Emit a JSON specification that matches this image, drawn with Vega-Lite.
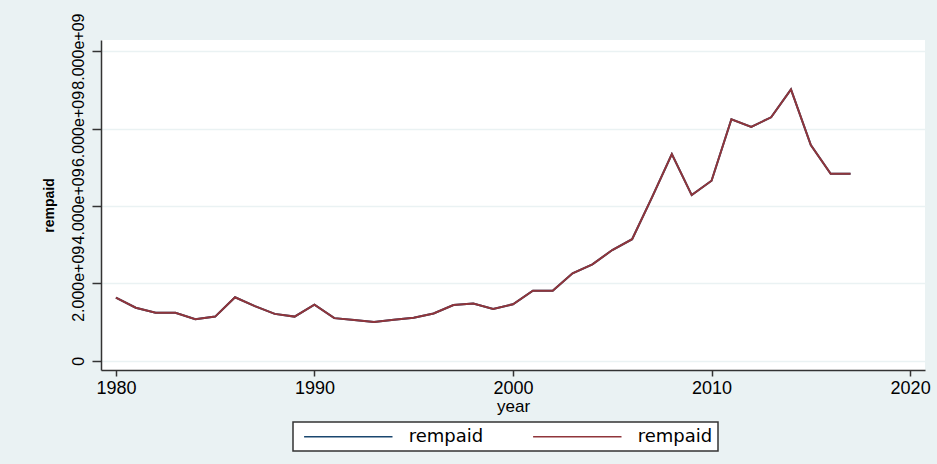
{
  "$schema": "https://vega.github.io/schema/vega-lite/v6.json",
  "width": 824,
  "height": 330,
  "autosize": {"type": "none"},
  "padding": {"left": 101, "top": 40, "right": 12, "bottom": 94},
  "background": "#EAF2F3",
  "config": {
    "view": {"fill": "white", "stroke": null},
    "font": "Liberation Sans",
    "legend": {"strokeWidth": 1.5}
  },
  "data": {
    "values": [
      {"year": 1980, "rempaid": 1.63e9},
      {"year": 1981, "rempaid": 1.37e9},
      {"year": 1982, "rempaid": 1.24e9},
      {"year": 1983, "rempaid": 1.24e9},
      {"year": 1984, "rempaid": 1.07e9},
      {"year": 1985, "rempaid": 1.14e9},
      {"year": 1986, "rempaid": 1.64e9},
      {"year": 1987, "rempaid": 1.41e9},
      {"year": 1988, "rempaid": 1.21e9},
      {"year": 1989, "rempaid": 1.14e9},
      {"year": 1990, "rempaid": 1.45e9},
      {"year": 1991, "rempaid": 1.10e9},
      {"year": 1992, "rempaid": 1.05e9},
      {"year": 1993, "rempaid": 1.00e9},
      {"year": 1994, "rempaid": 1.06e9},
      {"year": 1995, "rempaid": 1.11e9},
      {"year": 1996, "rempaid": 1.22e9},
      {"year": 1997, "rempaid": 1.44e9},
      {"year": 1998, "rempaid": 1.48e9},
      {"year": 1999, "rempaid": 1.34e9},
      {"year": 2000, "rempaid": 1.46e9},
      {"year": 2001, "rempaid": 1.81e9},
      {"year": 2002, "rempaid": 1.81e9},
      {"year": 2003, "rempaid": 2.26e9},
      {"year": 2004, "rempaid": 2.49e9},
      {"year": 2005, "rempaid": 2.86e9},
      {"year": 2006, "rempaid": 3.14e9},
      {"year": 2007, "rempaid": 4.22e9},
      {"year": 2008, "rempaid": 5.34e9},
      {"year": 2009, "rempaid": 4.28e9},
      {"year": 2010, "rempaid": 4.65e9},
      {"year": 2011, "rempaid": 6.24e9},
      {"year": 2012, "rempaid": 6.04e9},
      {"year": 2013, "rempaid": 6.29e9},
      {"year": 2014, "rempaid": 7.01e9},
      {"year": 2015, "rempaid": 5.57e9},
      {"year": 2016, "rempaid": 4.83e9},
      {"year": 2017, "rempaid": 4.83e9}
    ]
  },
  "encoding": {
    "x": {
      "field": "year",
      "type": "quantitative",
      "scale": {"domain": [1979.25, 2020.75], "nice": false, "zero": false},
      "axis": {
        "values": [1980, 1990, 2000, 2010, 2020],
        "format": "d",
        "grid": false,
        "labelFontSize": 18,
        "labelColor": "#000000",
        "labelPadding": 3,
        "labelFlush": false,
        "tickSize": 6,
        "tickColor": "#333333",
        "tickWidth": 1.5,
        "domainColor": "#333333",
        "domainWidth": 1.5,
        "title": "year",
        "titleFontSize": 17,
        "titleFontWeight": "normal",
        "titleColor": "#000000",
        "titlePadding": 1
      }
    },
    "y": {
      "field": "rempaid",
      "type": "quantitative",
      "scale": {"domain": [-240000000, 8287000000], "nice": false, "zero": false},
      "axis": {
        "values": [0, 2000000000, 4000000000, 6000000000, 8000000000],
        "labelExpr": "datum.value == 0 ? '0' : format(datum.value / 1e9, '.3f') + 'e+09'",
        "labelAngle": 270,
        "labelAlign": "center",
        "labelBaseline": "bottom",
        "labelFontSize": 16,
        "labelColor": "#000000",
        "labelPadding": 6,
        "labelOverlap": false,
        "labelBound": false,
        "labelFlush": false,
        "tickSize": 9,
        "tickColor": "#333333",
        "tickWidth": 1.5,
        "domainColor": "#333333",
        "domainWidth": 1.5,
        "grid": true,
        "gridColor": "#EAF2F3",
        "gridWidth": 1.5,
        "title": "rempaid",
        "titleFontSize": 14,
        "titleFontWeight": "bold",
        "titleColor": "#000000",
        "titlePadding": 14
      }
    }
  },
  "layer": [
    {
      "mark": {"type": "line", "strokeWidth": 2},
      "encoding": {
        "color": {
          "datum": "s1",
          "type": "nominal",
          "scale": {"domain": ["s1", "s2"], "range": ["#1A476F", "#90353B"]},
          "legend": {
            "title": null,
            "orient": "none",
            "legendX": 192,
            "legendY": 382,
            "direction": "horizontal",
            "labelExpr": "'rempaid'",
            "labelFont": "DejaVu Sans",
            "labelFontSize": 18,
            "labelColor": "#000000",
            "labelOffset": 91.7,
            "labelLimit": 200,
            "symbolType": "M-0.4,0H10",
            "symbolSize": 289,
            "symbolStrokeWidth": 1.5,
            "columnPadding": 43,
            "padding": 5,
            "fillColor": "white",
            "strokeColor": "#333333"
          }
        }
      }
    },
    {
      "mark": {"type": "line", "strokeWidth": 2},
      "encoding": {
        "color": {"datum": "s2", "type": "nominal"}
      }
    }
  ]
}
